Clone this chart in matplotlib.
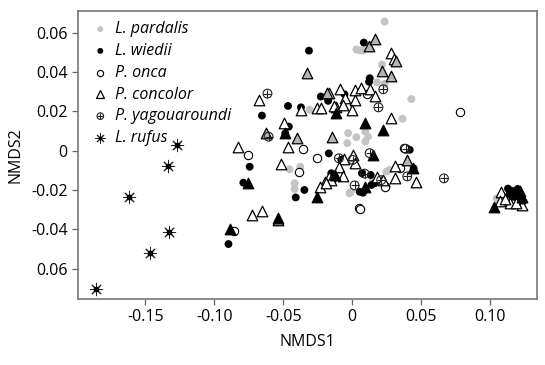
import matplotlib.pyplot as plt
from matplotlib.legend_handler import HandlerTuple

plt.rcParams['font.family'] = ['Open Sans', 'DejaVu Sans']

# NMDS scores
pardalis_x = [0.0235, 0.003, 0.0054, 0.0075, 0.0216, 0.018, 0.0235, 0.0429, 0.0364, -0.031,
              -0.003, 0.003, 0.0095, 0.0114, 0.0095, -0.0036, -0.0455, -0.0377, -0.0418, -0.0418,
              -0.002, -0.001, 0.0248, 0.027, 0.015, 0.1047]
pardalis_y = [0.0656, 0.0514, 0.051, 0.0508, 0.0437, 0.0347, 0.034, 0.0262, 0.0162, 0.0208,
              0.0089, 0.0068, 0.0097, 0.0071, 0.0046, 0.0038, -0.0095, -0.0082, -0.0166, -0.0195,
              -0.0217, -0.0209, -0.0107, -0.0098, -0.0153, -0.0243]

wiedii_x = [-0.0314, 0.0084, 0.0127, 0.0122, -0.0228, -0.0175, -0.0056, -0.0466, -0.0372, -0.0655,
            -0.046, -0.0486, -0.0744, -0.079, -0.017, -0.0068, 0.007, 0.0248, 0.0054, 0.0078,
            0.0404, 0.0417, 0.0445, -0.0347, -0.041, -0.0898, 0.0134, 0.0139, 0.0163, -0.0152,
            -0.014, -0.0079, 0.113, 0.116, 0.12, 0.114, 0.122, 0.117]
wiedii_y = [0.0508, 0.0549, 0.0368, 0.035, 0.0275, 0.0253, 0.0286, 0.0227, 0.022, 0.0178,
            0.0122, 0.0088, -0.0082, -0.0163, -0.0014, -0.0044, -0.0115, -0.0183, -0.0209, -0.0214,
            0.0007, 0.0004, -0.009, -0.02, -0.0238, -0.0475, -0.0124, -0.0175, -0.0166, -0.0115,
            -0.015, -0.0047, -0.0193, -0.0205, -0.0195, -0.0222, -0.0225, -0.0235]

onca_x = [0.0107, 0.0784, -0.0757, -0.0356, -0.0255, -0.0386, 0.0375, 0.0046, 0.0055, -0.0858,
          0.0235, 0.0348]
onca_y = [0.0288, 0.0198, -0.0024, 0.0008, -0.004, -0.0107, 0.0012, -0.0294, -0.0298, -0.0408,
          -0.0184, -0.009]

# P. concolor, split by the dot it sits on top of
concolor_x = [-0.0676, -0.0827, -0.0498, -0.0466, -0.0516, -0.0372, -0.0258, -0.0228, -0.0092, 0.0017,
              0.0066, 0.0126, 0.0163, 0.0017, -0.0055, -0.0115, -0.0068, 0.0, -0.017, -0.0132,
              0.0284, 0.0284, 0.0305, -0.0061, 0.0008, 0.002, -0.0094, -0.017, -0.0195, -0.0233,
              -0.0068, 0.0311, 0.0311, 0.0463, 0.018, 0.0223, -0.0726, -0.0658, -0.0152, -0.0188,
              0.108, 0.107, 0.1145, 0.1235, 0.122, 0.119, 0.1105]
concolor_y = [0.0258, 0.002, 0.0142, 0.002, -0.0068, 0.0207, 0.0215, 0.0215, 0.0313, 0.031,
              0.0318, 0.0313, 0.0279, 0.0259, 0.0267, 0.0224, 0.0233, 0.0208, 0.0292, 0.0227,
              0.0165, 0.0497, 0.0465, -0.0044, -0.0022, -0.0064, -0.0081, -0.0132, -0.0158, -0.0183,
              -0.0129, -0.0078, -0.0137, -0.0158, -0.0132, -0.0149, -0.0327, -0.0305, -0.015, -0.0166,
              -0.021, -0.0255, -0.0265, -0.0275, -0.024, -0.0265, -0.0245]
concolor_g_x = [0.0121, 0.0168, 0.0315, 0.0216, 0.0279, -0.0326, -0.0624, -0.0402, -0.0145, -0.0536,
                0.04, -0.0181]
concolor_g_y = [0.053, 0.0568, 0.0458, 0.0403, 0.0381, 0.0395, 0.0089, 0.0063, 0.0071, -0.0353,
                -0.0047, 0.0293]
concolor_b_x = [-0.0119, 0.0096, 0.0223, -0.049, -0.0127, -0.0759, -0.0253, -0.089, -0.0536, 0.0147,
                0.0438, 0.0096, 0.1027, 0.117, 0.122, 0.123]
concolor_b_y = [0.019, 0.0139, 0.0105, 0.0088, -0.0124, -0.0166, -0.0237, -0.04, -0.0344, -0.0022,
                -0.009, -0.0185, -0.0285, -0.0215, -0.0205, -0.0235]

yago_x = [-0.0615, 0.0225, 0.019, 0.0388, 0.0126, 0.009, 0.0017, 0.0399, 0.0665, 0.021,
          -0.0097, -0.0607, 0.0003]
yago_y = [0.029, 0.0312, 0.022, 0.0009, -0.0013, -0.0117, -0.0177, -0.0131, -0.0141, -0.015,
          -0.0039, 0.0071, -0.0047]

rufus_x = [-0.127, -0.134, -0.162, -0.1326, -0.147, -0.186]
rufus_y = [0.0027, -0.0076, -0.0237, -0.0415, -0.0522, -0.0702]

xticks = [-0.15, -0.10, -0.05, 0, 0.05, 0.10]
xticklabels = ['-0.15', '-0.10', '-0.05', '0', '0.05', '0.10']
yticks = [0.06, 0.04, 0.02, 0, -0.02, -0.04, -0.06]
yticklabels = ['0.06', '0.04', '0.02', '0', '-0.02', '-0.04', '0.06']

fig = plt.figure(figsize=(5.45, 3.65), dpi=100)
ax = fig.add_axes([0.143, 0.181, 0.842, 0.789])

tri = dict(marker='^', s=58, edgecolors='black', linewidths=0.9)
p1 = ax.scatter(pardalis_x, pardalis_y, s=32, color='#c4c4c4', edgecolors='none', zorder=2)
p2 = ax.scatter(wiedii_x, wiedii_y, s=32, color='black', edgecolors='none', zorder=3)
p3 = ax.scatter(onca_x, onca_y, s=36, facecolors='white', edgecolors='black', linewidths=0.8, zorder=4)
p4 = ax.scatter(concolor_x, concolor_y, facecolors='white', zorder=5, **tri)
ax.scatter(concolor_g_x, concolor_g_y, facecolors='#b4b4b4', zorder=5, **tri)
ax.scatter(concolor_b_x, concolor_b_y, facecolors='black', zorder=5, **tri)
p5a = ax.scatter(yago_x, yago_y, s=40, facecolors='none', edgecolors='#222222', linewidths=0.8, zorder=6)
p5b = ax.scatter(yago_x, yago_y, s=40, marker='+', color='#222222', linewidths=0.8, zorder=6)
p6a = ax.scatter(rufus_x, rufus_y, s=80, marker=(8, 2, 0), color='#222222', linewidths=0.7, zorder=6)
p6b = ax.scatter(rufus_x, rufus_y, s=8, marker='s', color='black', zorder=7)

ax.set_xlim(-0.199, 0.1339)
ax.set_ylim(-0.0754, 0.071)
ax.set_xticks(xticks)
ax.set_xticklabels(xticklabels)
ax.set_yticks(yticks)
ax.set_yticklabels(yticklabels)
ax.tick_params(labelsize=11.5, length=4, color='#666666', width=0.9)

for side in ['top', 'right', 'bottom', 'left']:
    ax.spines[side].set_color('#777777')
    ax.spines[side].set_linewidth(1.2)

ax.set_xlabel('NMDS1', fontsize=11.5, labelpad=6)
ax.set_ylabel('NMDS2', fontsize=11.5, labelpad=5)

ax.legend([p1, p2, p3, p4, (p5a, p5b), (p6a, p6b)],
          ['L. pardalis', 'L. wiedii', 'P. onca', 'P. concolor', 'P. yagouaroundi', 'L. rufus'],
          handler_map={tuple: HandlerTuple(ndivide=1)},
          loc='upper left', bbox_to_anchor=(0.0, 1.0), frameon=False, markerscale=0.75,
          prop={'style': 'italic', 'size': 11.5}, handletextpad=0.2, labelspacing=0.36,
          handlelength=1.5, borderaxespad=0.25)

fig.savefig('out.png', dpi=100)
